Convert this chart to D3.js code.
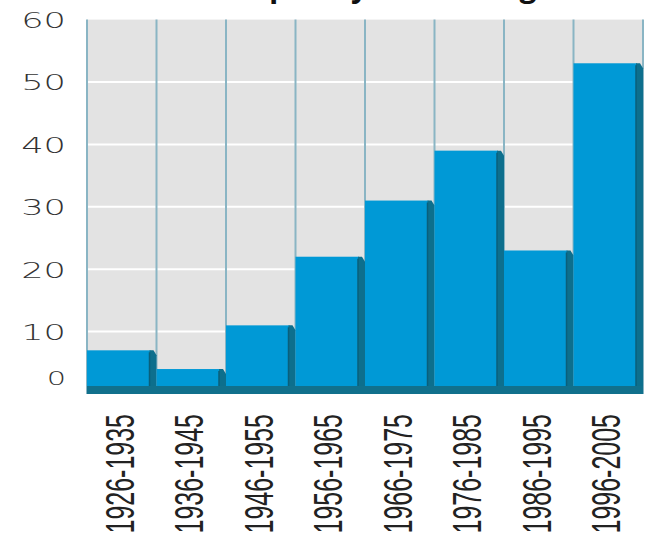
<!DOCTYPE html>
<html>
<head>
<meta charset="utf-8">
<script src="https://cdn.jsdelivr.net/npm/d3@7"></script>
<style>
  html, body { margin: 0; padding: 0; background: #fff; }
  svg { display: block; }
</style>
</head>
<body>
<svg id="chart" width="654" height="542"></svg>
<script>
// Decades and the number of events counted in each
const decades = ["1926-1935", "1936-1945", "1946-1955", "1956-1965",
                 "1966-1975", "1976-1985", "1986-1995", "1996-2005"];
const counts = [7, 4, 11, 22, 31, 39, 23, 53];
const yTicks = [0, 10, 20, 30, 40, 50, 60];
const titleText = "Frequency of flooding";

const svg = d3.select("#chart");
const plot = { left: 87, right: 643, top: 19.6, bottom: 394 };

const x = d3.scaleBand().domain(decades).range([plot.left, plot.right]).padding(0);
const y = d3.scaleLinear().domain([0, 60]).range([plot.bottom, plot.top]);

const face = "#0099d6", shade = "#0d6f8d", base = "#11708c";
const panel = "#e3e3e3", colLine = "#8ab5c4";

// Title (sits mostly above the top edge)
svg.append("text")
  .attr("x", 374).attr("y", -3)
  .attr("text-anchor", "middle")
  .attr("font-family", "Open Sans, sans-serif")
  .attr("font-weight", "bold")
  .attr("font-size", 30)
  .attr("fill", "#111")
  .text(titleText);

// Grey panel
svg.append("rect")
  .attr("x", plot.left).attr("y", y(60))
  .attr("width", plot.right - plot.left).attr("height", y(0) - y(60))
  .attr("fill", panel);

// White horizontal grid lines
svg.append("g").selectAll("line")
  .data(yTicks.filter(d => d > 0 && d < 60))
  .join("line")
  .attr("x1", plot.left).attr("x2", plot.right)
  .attr("y1", d => y(d)).attr("y2", d => y(d))
  .attr("stroke", "#fff").attr("stroke-width", 2);

// Column separators
const edges = decades.map(d => x(d)).concat([plot.right]);
svg.append("g").selectAll("line")
  .data(edges)
  .join("line")
  .attr("x1", d => d).attr("x2", d => d)
  .attr("y1", y(60)).attr("y2", y(0))
  .attr("stroke", colLine).attr("stroke-width", 2);

// Bars: flat face plus a darker bevelled side
const bars = svg.append("g").selectAll("g")
  .data(decades.map((d, i) => ({ decade: d, value: counts[i] })))
  .join("g");

bars.append("rect")
  .attr("x", d => x(d.decade))
  .attr("y", d => y(d.value))
  .attr("width", x.bandwidth() - 6)
  .attr("height", d => y(0) - y(d.value))
  .attr("fill", face);

bars.append("polygon")
  .attr("points", d => {
    const x1 = x(d.decade) + x.bandwidth();
    const t = y(d.value), b = y(0);
    return [[x1 - 7, t], [x1 - 3, t], [x1, t + 5], [x1, b], [x1 - 7, b]]
      .map(p => p.join(",")).join(" ");
  })
  .attr("fill", shade);

bars.append("line")
  .attr("x1", d => x(d.decade) + x.bandwidth() - 7)
  .attr("x2", d => x(d.decade) + x.bandwidth() - 7)
  .attr("y1", d => y(d.value) + 2).attr("y2", y(0))
  .attr("stroke", "#0a5f7a").attr("stroke-width", 1.5);

// Floor strip under the bars
svg.append("rect")
  .attr("x", plot.left).attr("y", y(0) - 8)
  .attr("width", plot.right - plot.left).attr("height", 8)
  .attr("fill", base);

// Y axis labels
const yAxis = svg.append("g")
  .attr("transform", `translate(${plot.left},0)`)
  .call(d3.axisLeft(y).tickValues(yTicks).tickSize(0).tickPadding(0));
yAxis.select(".domain").remove();
yAxis.selectAll("text")
  .attr("x", 0).attr("dy", "0.36em")
  .attr("text-anchor", "end")
  .attr("font-family", "DejaVu Sans, sans-serif")
  .attr("font-weight", 300)
  .attr("font-size", d => d === 0 ? 19 : 22)
  .attr("fill", "#333")
  .attr("transform", d => `translate(-21,${d === 0 ? -16 : 0}) scale(1.6,1)`);

// X axis labels, rotated
const xAxis = svg.append("g")
  .attr("transform", `translate(0,${y(0)})`)
  .call(d3.axisBottom(x).tickSize(0).tickPadding(0));
xAxis.select(".domain").remove();
xAxis.selectAll("text")
  .attr("x", 0).attr("y", 0).attr("dy", "0.36em")
  .attr("text-anchor", "end")
  .attr("font-family", "Liberation Sans, Arial, sans-serif")
  .attr("font-size", 25)
  .attr("fill", "#222")
  .attr("transform", "translate(-3,20) scale(1.65,1) rotate(-90)");
</script>
</body>
</html>
